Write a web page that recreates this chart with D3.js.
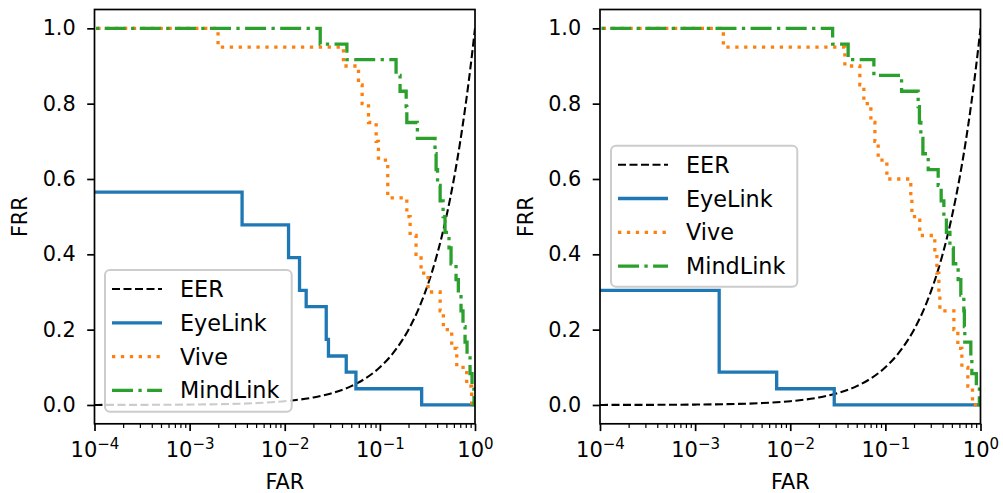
<!DOCTYPE html>
<html>
<head>
<meta charset="utf-8">
<script src="https://cdn.jsdelivr.net/npm/d3@7"></script>
<style>
  body { margin: 0; background: #fff; }
  svg { display: block; font-family: "DejaVu Sans", sans-serif; }
</style>
</head>
<body>
<svg id="chart" width="1003" height="493"></svg>
<script>
// DATA - step curves: frr[i] holds from far[i] to far[i+1]
var seriesNames = ["EER", "EyeLink", "Vive", "MindLink"];
var yTicks = [0, 0.2, 0.4, 0.6, 0.8, 1.0];
var xTicks = [1e-4, 1e-3, 1e-2, 1e-1, 1];
var xTickExp = ["\u22124", "\u22123", "\u22122", "\u22121", "0"];

// EER reference: points where FRR equals FAR
var eerFar = [0.0001, 0.0002, 0.0005, 0.001, 0.002, 0.005, 0.01, 0.02, 0.03, 0.05, 0.07, 0.1, 0.13, 0.17, 0.2, 0.25, 0.3, 0.35, 0.4, 0.5, 0.6, 0.7, 0.8, 0.9, 1];
var eerFrr = [0.0001, 0.0002, 0.0005, 0.001, 0.002, 0.005, 0.01, 0.02, 0.03, 0.05, 0.07, 0.1, 0.13, 0.17, 0.2, 0.25, 0.3, 0.35, 0.4, 0.5, 0.6, 0.7, 0.8, 0.9, 1];

// left panel
var leftEyeLinkFar = [1e-5, 0.00356, 0.01096, 0.0143, 0.0168, 0.0273, 0.0288, 0.0443, 0.056, 0.275, 1];
var leftEyeLinkFrr = [0.565, 0.478, 0.391, 0.304, 0.261, 0.174, 0.130, 0.087, 0.043, 0, 0];
var leftViveFar = [1e-5, 0.00199, 0.0414, 0.0596, 0.0651, 0.0759, 0.0914, 0.0966, 0.121, 0.192, 0.208, 0.240, 0.271, 0.321, 0.430, 0.465, 0.569, 0.643, 0.818, 0.923, 1];
var leftViveFrr = [1.0, 0.95, 0.90, 0.85, 0.80, 0.75, 0.70, 0.65, 0.55, 0.50, 0.45, 0.40, 0.35, 0.30, 0.25, 0.20, 0.15, 0.10, 0.05, 0, 0];
var leftMindLinkFar = [1e-5, 0.0236, 0.0450, 0.148, 0.163, 0.189, 0.192, 0.248, 0.380, 0.390, 0.404, 0.430, 0.462, 0.484, 0.533, 0.560, 0.632, 0.668, 0.713, 0.748, 0.786, 0.825, 0.887, 0.931, 0.977, 1];
var leftMindLinkFrr = [1, 0.958, 0.917, 0.875, 0.833, 0.792, 0.750, 0.708, 0.667, 0.625, 0.583, 0.542, 0.500, 0.458, 0.417, 0.375, 0.333, 0.292, 0.250, 0.208, 0.167, 0.125, 0.083, 0.042, 0, 0];

// right panel
var rightEyeLinkFar = [1e-5, 0.00179, 0.00720, 0.029, 1];
var rightEyeLinkFrr = [0.304, 0.087, 0.043, 0, 0];
var rightViveFar = [1e-5, 0.00198, 0.0375, 0.0539, 0.0594, 0.0704, 0.0776, 0.0840, 0.1037, 0.185, 0.190, 0.230, 0.331, 0.348, 0.365, 0.374, 0.525, 0.578, 0.637, 0.736, 0.824, 1];
var rightViveFrr = [1, 0.95, 0.90, 0.85, 0.80, 0.75, 0.70, 0.65, 0.60, 0.55, 0.50, 0.45, 0.40, 0.35, 0.30, 0.25, 0.20, 0.15, 0.10, 0.05, 0, 0];
var rightMindLinkFar = [1e-5, 0.0279, 0.0406, 0.0757, 0.148, 0.221, 0.228, 0.236, 0.248, 0.282, 0.359, 0.386, 0.412, 0.438, 0.477, 0.518, 0.582, 0.621, 0.668, 0.677, 0.684, 0.791, 0.811, 0.904, 0.973, 1];
var rightMindLinkFrr = [1, 0.958, 0.917, 0.875, 0.833, 0.792, 0.750, 0.708, 0.667, 0.625, 0.583, 0.542, 0.500, 0.458, 0.417, 0.375, 0.333, 0.292, 0.250, 0.208, 0.167, 0.125, 0.083, 0.042, 0, 0];

// STYLES
var colors = { EER: "#000000", EyeLink: "#1f77b4", Vive: "#ff7f0e", MindLink: "#2ca02c" };
var widths = { EER: 2.1, EyeLink: 3.3, Vive: 3.3, MindLink: 3.3 };
var dashes = { EER: "8,3.5", EyeLink: null, Vive: "3.3,5.6", MindLink: "21,5.4,3.3,5.4" };

var svg = d3.select("#chart");
var plotTop = 9.5, plotBottom = 423.8;

function zip(a, b) { return a.map(function(v, i) { return [v, b[i]]; }); }

function drawPanel(x0, x1, id, curves, legendBox) {
	var x = d3.scaleLog().domain([1e-4, 1]).range([x0, x1]);
	var y = d3.scaleLinear().domain([-0.05, 1.05]).range([plotBottom, plotTop]);
	var g = svg.append("g");

	g.append("clipPath").attr("id", id)
		.append("rect").attr("x", x0).attr("y", plotTop).attr("width", x1 - x0).attr("height", plotBottom - plotTop);

	var plot = g.append("g").attr("clip-path", "url(#" + id + ")");

	var smooth = d3.line().x(function(d) { return x(d[0]); }).y(function(d) { return y(d[1]); }).curve(d3.curveMonotoneX);
	var step = d3.line().x(function(d) { return x(d[0]); }).y(function(d) { return y(d[1]); }).curve(d3.curveStepAfter);

	curves.forEach(function(c) {
		plot.append("path")
			.attr("d", c.name === "EER" ? smooth(c.pts) : step(c.pts))
			.attr("fill", "none")
			.attr("stroke", colors[c.name])
			.attr("stroke-width", widths[c.name])
			.attr("stroke-dasharray", dashes[c.name]);
	});

	// frame
	g.append("rect").attr("x", x0).attr("y", plotTop).attr("width", x1 - x0).attr("height", plotBottom - plotTop)
		.attr("fill", "none").attr("stroke", "#000").attr("stroke-width", 1.7);

	// y axis
	var yAxis = g.append("g").attr("transform", "translate(" + x0 + ",0)")
		.call(d3.axisLeft(y).tickValues(yTicks).tickSize(7.3).tickPadding(11.5).tickFormat(d3.format(".1f")));
	yAxis.select(".domain").remove();
	yAxis.selectAll("line").attr("stroke-width", 1.7);
	yAxis.selectAll("text").style("font-size", "20.8px").style("font-family", "DejaVu Sans").attr("fill", "#000");

	// x axis, minor ticks
	var minor = [];
	for (var e = -4; e < 0; e++) for (var m = 2; m <= 9; m++) minor.push(m * Math.pow(10, e));
	var xMinor = g.append("g").attr("transform", "translate(0," + plotBottom + ")")
		.call(d3.axisBottom(x).tickValues(minor).tickSize(4.2).tickFormat(""));
	xMinor.select(".domain").remove();
	xMinor.selectAll("line").attr("stroke-width", 1.2);

	var xAxis = g.append("g").attr("transform", "translate(0," + plotBottom + ")")
		.call(d3.axisBottom(x).tickValues(xTicks).tickSize(7.3).tickFormat(""));
	xAxis.select(".domain").remove();
	xAxis.selectAll("line").attr("stroke-width", 1.7);
	xAxis.selectAll(".tick").each(function(d, i) {
		var t = d3.select(this).append("text")
			.attr("y", 33.7).attr("fill", "#000").attr("text-anchor", "middle")
			.style("font-size", "21px").style("font-family", "DejaVu Sans");
		t.append("tspan").text("10");
		t.append("tspan").style("font-size", "15px").attr("dy", -8.5).text(xTickExp[i]);
	});

	// axis labels
	g.append("text").attr("x", (x0 + x1) / 2).attr("y", 488.5).attr("text-anchor", "middle")
		.style("font-size", "20.8px").text("FAR");
	g.append("text").attr("transform", "translate(" + (x0 - 67.5) + "," + ((plotTop + plotBottom) / 2) + ") rotate(-90)")
		.attr("text-anchor", "middle").style("font-size", "20.8px").text("FRR");

	// legend
	var lg = g.append("g").attr("transform", "translate(" + legendBox[0] + "," + legendBox[1] + ")");
	lg.append("rect").attr("width", legendBox[2]).attr("height", legendBox[3]).attr("rx", 5).attr("ry", 5)
		.attr("fill", "#fff").attr("fill-opacity", 0.8).attr("stroke", "#cccccc").attr("stroke-width", 2);
	seriesNames.forEach(function(name, i) {
		var cy = 19 + i * 33.8;
		lg.append("line").attr("x1", 7).attr("x2", 57).attr("y1", cy).attr("y2", cy)
			.attr("stroke", colors[name]).attr("stroke-width", widths[name])
			.attr("stroke-dasharray", dashes[name]);
		lg.append("text").attr("x", 75).attr("y", cy).attr("dy", "0.36em")
			.style("font-size", "22.3px").attr("fill", "#000").text(name);
	});
}

drawPanel(94.5, 475, "clipL", [
	{ name: "EER", pts: zip(eerFar, eerFrr) },
	{ name: "EyeLink", pts: zip(leftEyeLinkFar, leftEyeLinkFrr) },
	{ name: "Vive", pts: zip(leftViveFar, leftViveFrr) },
	{ name: "MindLink", pts: zip(leftMindLinkFar, leftMindLinkFrr) }
], [105, 270, 186.7, 141.7]);

drawPanel(600, 980.5, "clipR", [
	{ name: "EER", pts: zip(eerFar, eerFrr) },
	{ name: "EyeLink", pts: zip(rightEyeLinkFar, rightEyeLinkFrr) },
	{ name: "Vive", pts: zip(rightViveFar, rightViveFrr) },
	{ name: "MindLink", pts: zip(rightMindLinkFar, rightMindLinkFrr) }
], [611, 145.7, 186.3, 141]);
</script>
</body>
</html>
